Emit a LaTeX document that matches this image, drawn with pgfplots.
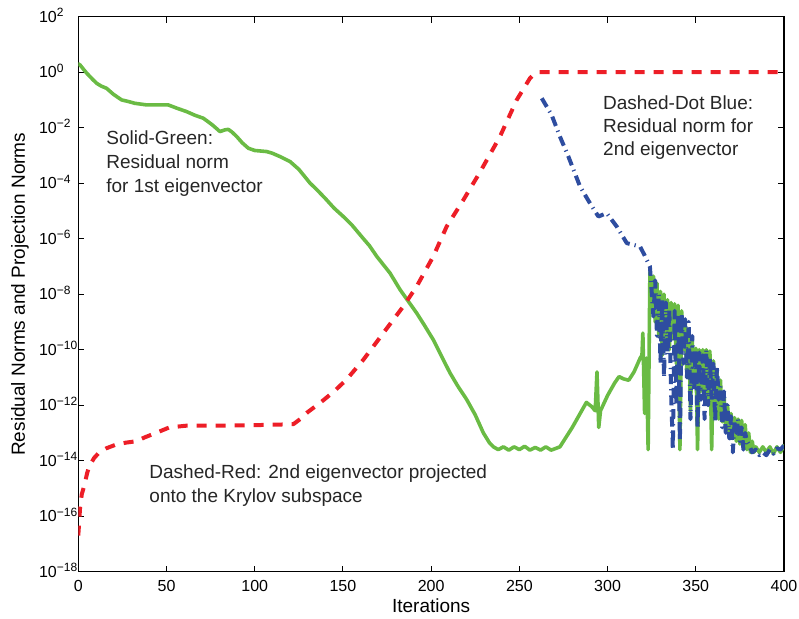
\documentclass[border=0pt]{standalone}
\usepackage{pgfplots}
\pgfplotsset{compat=1.18}
\usepackage{fontspec}
\setmainfont{Liberation Sans}
\definecolor{cgreen}{RGB}{106,187,68}
\definecolor{cred}{RGB}{237,30,39}
\definecolor{cblue}{RGB}{46,77,160}
\newcommand{\tl}[1]{10\rlap{\smash{\textsuperscript{#1}}}}
\begin{document}
\begin{tikzpicture}
\begin{axis}[
  width=352.85pt, height=277.5pt, scale only axis=true,
  ymode=log, xmin=0, xmax=400, ymin=1e-18, ymax=1e2,
  xtick={0,50,...,400},
  ytick={1e-18,1e-16,1e-14,1e-12,1e-10,1e-8,1e-6,1e-4,1e-2,1e0,1e2},
  yticklabels={\tl{−18},\tl{−16},\tl{−14},\tl{−12},\tl{−10},\tl{−8},\tl{−6},\tl{−4},\tl{−2},\tl{0},\tl{2}},
  yminorticks=false,
  tick align=inside, major tick length=3pt,
  tick style={black, line width=0.5pt},
  axis line style={black, line width=0.6pt},
  /pgf/number format/assume math mode=true,
  ticklabel style={font=\fontsize{8}{9.6}\selectfont},
  yticklabel style={anchor=east, inner sep=0pt, xshift=-10.5pt},
  xticklabel style={inner sep=0pt, yshift=-4pt},
  xlabel={Iterations},
  ylabel={Residual Norms and Projection Norms},
  label style={font=\fontsize{9.5}{11.4}\selectfont},
  xlabel style={at={(axis description cs:0.5,-0.062)}, anchor=center},
  ylabel style={at={(axis description cs:-0.0826,0.5)}, anchor=center},
  clip=true,
]
% green: residual norm 1st eigenvector
\addplot[cgreen, line width=1.8pt, line join=round, line cap=round] coordinates {
(0,2.0) (1,1.82) (3,1.26) (5,8.91e-1) (8,5.62e-1) (10.4,3.98e-1) (13,3.16e-1) (16,2.63e-1)
(20,1.58e-1) (24.6,1.0e-1) (28,8.91e-2) (32,7.59e-2) (38.8,6.61e-2) (45,6.61e-2) (51,6.61e-2)
(56,5.01e-2) (61.4,3.80e-2) (66,2.82e-2) (70.9,2.19e-2) (76,1.26e-2) (80.3,7.24e-3) (83,8.32e-3)
(85,8.71e-3) (87,7.08e-3) (89.8,4.79e-3) (93,2.82e-3) (96.4,1.82e-3) (100,1.51e-3) (106.8,1.38e-3)
(110,1.20e-3) (114.3,9.12e-4) (120,6.03e-4) (125,3.16e-4) (131.4,1.0e-4) (135,6.03e-5) (140,2.82e-5)
(145,1.26e-5) (150.2,6.31e-6) (155,3.16e-6) (161.6,1.0e-6) (165,5.62e-7) (169.2,2.29e-7) (176.7,5.75e-8)
(182.4,1.45e-8) (187,5.62e-9) (191.8,2.09e-9) (196,7.94e-10) (201.2,2.29e-10) (206,5.62e-11)
(210.7,1.45e-11) (215,5.01e-12) (220.2,1.58e-12) (225,4.47e-13) (229.6,1.0e-13) (233,4.47e-14)
(235.3,3.16e-14) (238,2.51e-14) (241,3.16e-14) (244,2.40e-14) (247,3.16e-14) (250,2.51e-14)
(253,3.31e-14) (256,2.40e-14) (259,3.02e-14) (262,2.40e-14) (265,3.16e-14) (268,2.40e-14)
(271,2.82e-14) (273,3.16e-14) (276,6.31e-14) (280,1.58e-13) (284,4.47e-13) (288,1.26e-12)
(291,8.91e-13) (293,6.31e-13) (294,1.58e-11) (295,1.58e-13) (296,6.31e-13) (300,2.24e-12)
(304,6.31e-12) (306.5,1.07e-11) (309,8.91e-12) (312,7.94e-12) (315,1.58e-11) (318.5,5.01e-11)
(319.5,6.31e-11) (320,3.98e-10) (321,5.01e-13) (322,5.01e-11) (323,2.51e-14) (324,6.31e-8)
(325,3.16e-9) (326,4.47e-8) (327,1.0e-9) (328,2.51e-8) (329,3.16e-10) (330,1.26e-8) (331,6.31e-11)
(332,1.0e-8) (333,1.58e-10) (334,6.31e-9) (335,1.0e-10) (336,5.01e-9) (337,2.51e-10) (338,4.47e-9)
(339,3.16e-11) (340,3.98e-9) (341,2.51e-14) (342,2.51e-9) (343,1.0e-10) (344,1.0e-9) (345,1.0e-11)
(346,5.01e-10) (347,6.31e-13) (348,2.0e-10) (349,6.31e-12) (350,1.12e-10) (351,2.51e-14)
(352,1.0e-10) (353,3.16e-12) (354,1.0e-10) (355,1.58e-12) (356,1.0e-10) (357,1.0e-12)
(358,8.91e-11) (359,2.51e-14) (360,3.98e-11) (361,1.0e-12) (362,1.58e-11) (363,3.16e-13)
(364,7.94e-12) (365,2.51e-13) (366,2.51e-12) (367,1.26e-13) (368,1.0e-12) (369,1.0e-13)
(370,5.01e-13) (371,6.31e-14) (372,3.55e-13) (373,5.01e-14) (374,3.16e-13) (375,3.98e-14)
(376,2.82e-13) (377,3.16e-14) (378,2.0e-13) (379,2.51e-14) (380,1.0e-13) (381,2.0e-14)
(382,5.01e-14) (383,2.0e-14) (384,3.16e-14) (386,2.0e-14) (388,3.16e-14) (390,2.0e-14)
(392,3.16e-14) (394,1.78e-14) (396,3.16e-14) (398,2.0e-14) (400,3.55e-14)
};
% red: 2nd eigenvector projected onto Krylov subspace
\addplot[cred, line width=2pt, line join=round, dash pattern=on 5pt off 4.5pt] coordinates {
(0,2.0e-17) (0.5,6.31e-17) (1,2.0e-16) (2,6.31e-16) (3.4,1.26e-15) (5,3.55e-15) (6.2,6.31e-15)
(9,1.26e-14) (11.9,2.0e-14) (16,2.82e-14) (21.4,3.80e-14) (27,4.47e-14) (32.7,5.01e-14)
(38,7.08e-14) (44,1.0e-13) (51.6,1.58e-13) (61,1.82e-13) (76,1.82e-13) (100,1.91e-13)
(114,2.0e-13) (122,2.09e-13) (126.6,3.47e-13) (130,5.62e-13) (137,1.20e-12) (145,3.16e-12)
(152,8.32e-12) (161.6,4.37e-11) (172.9,3.98e-10) (184.2,3.63e-9) (191.8,1.91e-8) (201.2,2.29e-7)
(208.8,2.75e-6) (218.3,2.51e-5) (227.7,2.51e-4) (239,4.79e-3) (248.5,1.0e-1) (256,6.03e-1)
(259,9.33e-1) (261,1) (400,1)
};
% blue: residual norm 2nd eigenvector
\addplot[cblue, line width=2pt, line join=round, dash pattern=on 5pt off 2.5pt on 0.6pt off 2.5pt] coordinates {
(262.7,1.15e-1) (268.3,2.88e-2) (273,4.79e-3) (277.8,9.12e-4) (284.4,7.59e-5) (290,1.91e-5)
(294.8,6.31e-6) (299.5,8.32e-6) (305.2,2.75e-6) (310.9,6.92e-7) (318.4,5.25e-7) (321,2.51e-7)
(324,1.0e-7) (325,1.26e-8) (326,1.58e-9) (327,3.16e-8) (328,3.16e-10) (329,1.0e-8) (330,3.16e-11)
(331,6.31e-9) (332,1.0e-11) (333,5.01e-9) (334,6.31e-11) (335,3.16e-9) (336,3.16e-12) (337,2.51e-14)
(338,2.51e-9) (339,1.0e-12) (340,2.0e-9) (341,5.01e-14) (342,2.0e-9) (343,3.16e-11) (344,1.26e-9)
(345,1.0e-11) (346,1.0e-9) (347,3.16e-13) (348,3.16e-10) (349,3.16e-12) (350,1.0e-10) (351,1.58e-13)
(352,7.94e-11) (353,1.58e-12) (354,6.31e-11) (355,3.16e-13) (356,1.0e-10) (357,1.0e-12) (358,5.01e-11)
(359,1.58e-12) (360,3.16e-11) (361,2.51e-13) (362,2.51e-11) (363,1.58e-12) (364,5.01e-12)
(365,1.58e-13) (366,3.16e-12) (367,1.0e-13) (368,1.0e-12) (369,6.31e-14) (370,3.98e-13)
(371,2.0e-14) (372,2.51e-13) (373,1.0e-13) (374,3.16e-13) (375,5.01e-14) (376,1.58e-13)
(377,2.51e-14) (378,1.0e-13) (379,5.01e-14) (380,3.98e-14) (382,2.0e-14) (384,2.51e-14)
(386,1.58e-14) (388,2.0e-14) (390,1.58e-14) (392,2.51e-14) (394,1.78e-14) (396,2.82e-14)
(398,2.51e-14) (400,3.55e-14)
};
\node[anchor=north west, align=left, inner sep=0pt, font=\fontsize{9.5}{12}\selectfont, text=black!85]
  at (axis cs:15.7,8.3e-3) {Solid-Green:\\Residual norm\\for 1st eigenvector};
\node[anchor=north west, align=left, inner sep=0pt, font=\fontsize{9.5}{11.5}\selectfont, text=black!85]
  at (axis cs:297.3,0.151) {Dashed-Dot Blue:\\Residual norm for\\2nd eigenvector};
\node[anchor=north west, align=left, inner sep=0pt, font=\fontsize{9.5}{12}\selectfont, text=black!85]
  at (axis cs:40.1,7.24e-15) {Dashed-Red: 2nd eigenvector projected\\onto the Krylov subspace};
\end{axis}
\pgfresetboundingbox
\path[use as bounding box] (-39.15pt,-23.65pt) rectangle (360.35pt,285.85pt);
\end{tikzpicture}
\end{document}
